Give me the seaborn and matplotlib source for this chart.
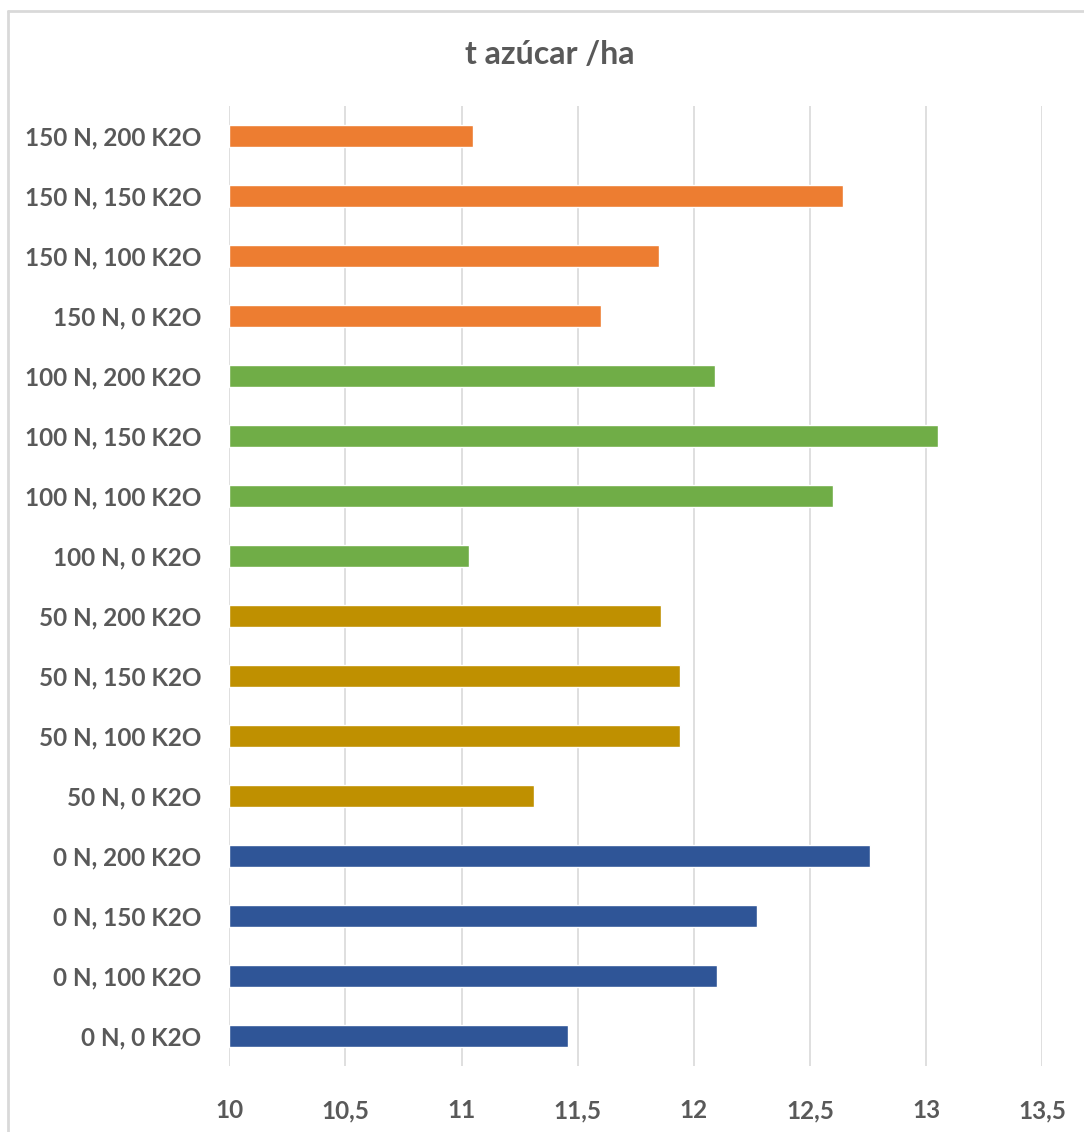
import matplotlib
matplotlib.use("Agg")
import matplotlib.pyplot as plt
from matplotlib.lines import Line2D
import seaborn as sns
import pandas as pd

# Treatments listed from top to bottom
treatments = [
    "150 N, 200 K2O", "150 N, 150 K2O", "150 N, 100 K2O", "150 N, 0 K2O",
    "100 N, 200 K2O", "100 N, 150 K2O", "100 N, 100 K2O", "100 N, 0 K2O",
    "50 N, 200 K2O", "50 N, 150 K2O", "50 N, 100 K2O", "50 N, 0 K2O",
    "0 N, 200 K2O", "0 N, 150 K2O", "0 N, 100 K2O", "0 N, 0 K2O",
]
nitrogen = ["150 N"] * 4 + ["100 N"] * 4 + ["50 N"] * 4 + ["0 N"] * 4
sugar_yield = [
    11.05, 12.64, 11.85, 11.60,
    12.09, 13.05, 12.60, 11.03,
    11.86, 11.94, 11.94, 11.31,
    12.76, 12.27, 12.10, 11.46,
]
x_ticks = [10, 10.5, 11, 11.5, 12, 12.5, 13, 13.5]
x_tick_labels = ["10", "10,5", "11", "11,5", "12", "12,5", "13", "13,5"]
title = "t azúcar /ha"

palette = {"150 N": "#ED7D31", "100 N": "#70AD47", "50 N": "#BF9000", "0 N": "#2F5597"}

df = pd.DataFrame({"tratamiento": treatments, "N": nitrogen, "t": sugar_yield})
df["desde_10"] = df["t"] - 10

sns.set_theme(style="white")
plt.rcParams["font.family"] = ["Lato", "DejaVu Sans"]

W, H = 1084, 1132
fig = plt.figure(figsize=(W / 100, H / 100), dpi=100)
ax = fig.add_axes([229.3 / W, 1 - 1066 / H, (1042.3 - 229.3) / W, (1066 - 106) / H])

# The value axis starts at 10, so bars are drawn from there
sns.barplot(data=df, y="tratamiento", x="desde_10", hue="N",
            palette=palette, order=treatments, dodge=False, width=0.36,
            saturation=1, orient="h", ax=ax, legend=False, left=10)

ax.set_xlim(10, 13.5)
ax.set_ylim(len(treatments) - 0.5, -0.5)
ax.set_xticks(x_ticks)
ax.set_xticklabels(x_tick_labels)
ax.grid(axis="x", color="#D9D9D9", linewidth=1.2)
ax.set_axisbelow(True)
for s in ax.spines.values():
    s.set_visible(False)
ax.set_xlabel("")
ax.set_ylabel("")
ax.tick_params(axis="both", length=0, labelsize=17.5, colors="#595959")
ax.tick_params(axis="x", pad=24)
ax.tick_params(axis="y", pad=20)
for lab in ax.get_xticklabels() + ax.get_yticklabels():
    lab.set_fontweight("bold")
    lab.set_color("#595959")

fig.text(550 / W, 1 - 55 / H, title, ha="center", va="center",
         fontsize=23, fontweight="bold", color="#595959")

# Chart frame
fig.add_artist(Line2D([8 / W, 1], [1 - 11 / H, 1 - 11 / H], color="#D9D9D9",
                      linewidth=2, transform=fig.transFigure))
fig.add_artist(Line2D([8 / W, 8 / W], [0, 1 - 11 / H], color="#D9D9D9",
                      linewidth=2, transform=fig.transFigure))

fig.savefig("out.png", dpi=100, facecolor="white")
